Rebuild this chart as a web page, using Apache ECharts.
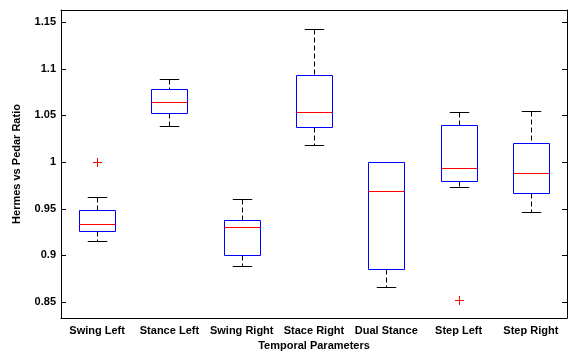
<!DOCTYPE html>
<html>
<head>
<meta charset="utf-8">
<script src="https://cdn.jsdelivr.net/npm/echarts@6/dist/echarts.min.js"></script>
<style>html,body{margin:0;padding:0;background:#fff;}#c{width:568px;height:351px;}</style>
</head>
<body>
<div id="c"></div>
<script>
var categories = ['Swing Left', 'Stance Left', 'Swing Right', 'Stace Right', 'Dual Stance', 'Step Left', 'Step Right'];
var whiskerLow  = [0.916, 1.039, 0.889, 1.018, 0.866, 0.973, 0.947];
var q1          = [0.926, 1.053, 0.901, 1.038, 0.885, 0.980, 0.967];
var median      = [0.934, 1.064, 0.930, 1.054, 0.969, 0.994, 0.988];
var q3          = [0.949, 1.078, 0.938, 1.093, 1.000, 1.040, 1.020];
var whiskerHigh = [0.963, 1.089, 0.960, 1.143, 1.000, 1.054, 1.055];
var outlierCat  = [0, 5];
var outlierVal  = [1.000, 0.852];

var boxData = categories.map(function (c, i) {
  return [i, whiskerLow[i], q1[i], median[i], q3[i], whiskerHigh[i]];
});
var outData = outlierCat.map(function (c, i) { return [c, outlierVal[i]]; });

var FONT = 'Liberation Sans';
var chart = echarts.init(document.getElementById('c'));

function renderBox(params, api) {
  var i = api.value(0);
  var band = api.size([1, 0])[0];
  var pLow = api.coord([i, api.value(1)]);
  var pQ1 = api.coord([i, api.value(2)]);
  var pMed = api.coord([i, api.value(3)]);
  var pQ3 = api.coord([i, api.value(4)]);
  var pHigh = api.coord([i, api.value(5)]);
  var x = Math.round(pMed[0]) + 0.5;
  var bw = band * 0.5;
  var cw = band * 0.27;
  var r = function (v) { return Math.round(v) + 0.5; };
  var children = [];
  var dash = { stroke: '#000', lineWidth: 1, lineDash: [5, 3] };
  var solid = { stroke: '#000', lineWidth: 1 };
  if (pHigh[1] < pQ3[1] - 0.5) {
    children.push({ type: 'line', shape: { x1: x, y1: r(pHigh[1]), x2: x, y2: r(pQ3[1]) }, style: dash });
    children.push({ type: 'line', shape: { x1: x - cw / 2, y1: r(pHigh[1]), x2: x + cw / 2, y2: r(pHigh[1]) }, style: solid });
  }
  children.push({ type: 'line', shape: { x1: x, y1: r(pQ1[1]), x2: x, y2: r(pLow[1]) }, style: dash });
  children.push({ type: 'line', shape: { x1: x - cw / 2, y1: r(pLow[1]), x2: x + cw / 2, y2: r(pLow[1]) }, style: solid });
  children.push({ type: 'rect', shape: { x: r(x - bw / 2), y: r(pQ3[1]), width: Math.round(bw), height: Math.round(pQ1[1]) - Math.round(pQ3[1]) },
    style: { fill: 'rgba(255,255,255,0)', stroke: '#0000ff', lineWidth: 1 } });
  children.push({ type: 'line', shape: { x1: r(x - bw / 2), y1: r(pMed[1]), x2: r(x - bw / 2) + Math.round(bw), y2: r(pMed[1]) },
    style: { stroke: '#ff0000', lineWidth: 1 } });
  return { type: 'group', children: children };
}

function renderOutlier(params, api) {
  var p = api.coord([api.value(0), api.value(1)]);
  var x = Math.round(p[0]), y = Math.round(p[1]), s = 4;
  return { type: 'group', children: [
    { type: 'rect', shape: { x: x - s, y: y, width: 2 * s + 1, height: 1 }, style: { fill: '#ff0000', stroke: null } },
    { type: 'rect', shape: { x: x, y: y - s, width: 1, height: 2 * s + 1 }, style: { fill: '#ff0000', stroke: null } }
  ] };
}

var labelStyle = { color: '#000', fontFamily: FONT, fontWeight: 'bold', fontSize: 11 };
var yMin = 0.833, yMax = 1.163;

chart.setOption({
  backgroundColor: '#fff',
  animation: false,
  grid: { left: 61, right: 1, top: 10, bottom: 33, show: false, containLabel: false, outerBoundsMode: 'none' },
  xAxis: [{
    type: 'category', data: categories, position: 'bottom', boundaryGap: true,
    name: 'Temporal Parameters', nameLocation: 'middle', nameGap: 21,
    nameTextStyle: labelStyle,
    axisLine: { lineStyle: { color: '#000', width: 1 } },
    axisTick: { inside: true, alignWithLabel: true, length: 5, lineStyle: { color: '#000' } },
    axisLabel: Object.assign({ margin: 7, interval: 0 }, labelStyle),
    splitLine: { show: false }
  }, {
    type: 'category', data: categories, position: 'top', boundaryGap: true,
    axisLine: { lineStyle: { color: '#000', width: 1 } },
    axisTick: { inside: true, alignWithLabel: true, length: 5, lineStyle: { color: '#000' } },
    axisLabel: { show: false }, splitLine: { show: false }
  }],
  yAxis: [{
    type: 'value', min: yMin, max: yMax, splitNumber: 6, position: 'left',
    name: 'Hermes vs Pedar Ratio', nameLocation: 'middle', nameGap: 39, nameRotate: 90,
    nameTextStyle: labelStyle,
    axisLine: { show: true, lineStyle: { color: '#000', width: 1 } },
    axisTick: { show: true, inside: true, length: 5, lineStyle: { color: '#000' } },
    axisLabel: Object.assign({ margin: 5, showMinLabel: false, showMaxLabel: false,
      formatter: function (v) { return String(Math.round(v * 100) / 100); } }, labelStyle),
    splitLine: { show: false }
  }, {
    type: 'value', min: yMin, max: yMax, splitNumber: 6, position: 'right',
    axisLine: { show: true, lineStyle: { color: '#000', width: 1 } },
    axisTick: { show: true, inside: true, length: 5, lineStyle: { color: '#000' } },
    axisLabel: { show: false }, splitLine: { show: false }
  }],
  series: [{
    type: 'custom', renderItem: renderBox, data: boxData,
    encode: { x: 0, y: [1, 2, 3, 4, 5] }, xAxisIndex: 0, yAxisIndex: 0, silent: true
  }, {
    type: 'custom', renderItem: renderOutlier, data: outData,
    encode: { x: 0, y: 1 }, xAxisIndex: 0, yAxisIndex: 0, silent: true
  }]
});
</script>
</body>
</html>
